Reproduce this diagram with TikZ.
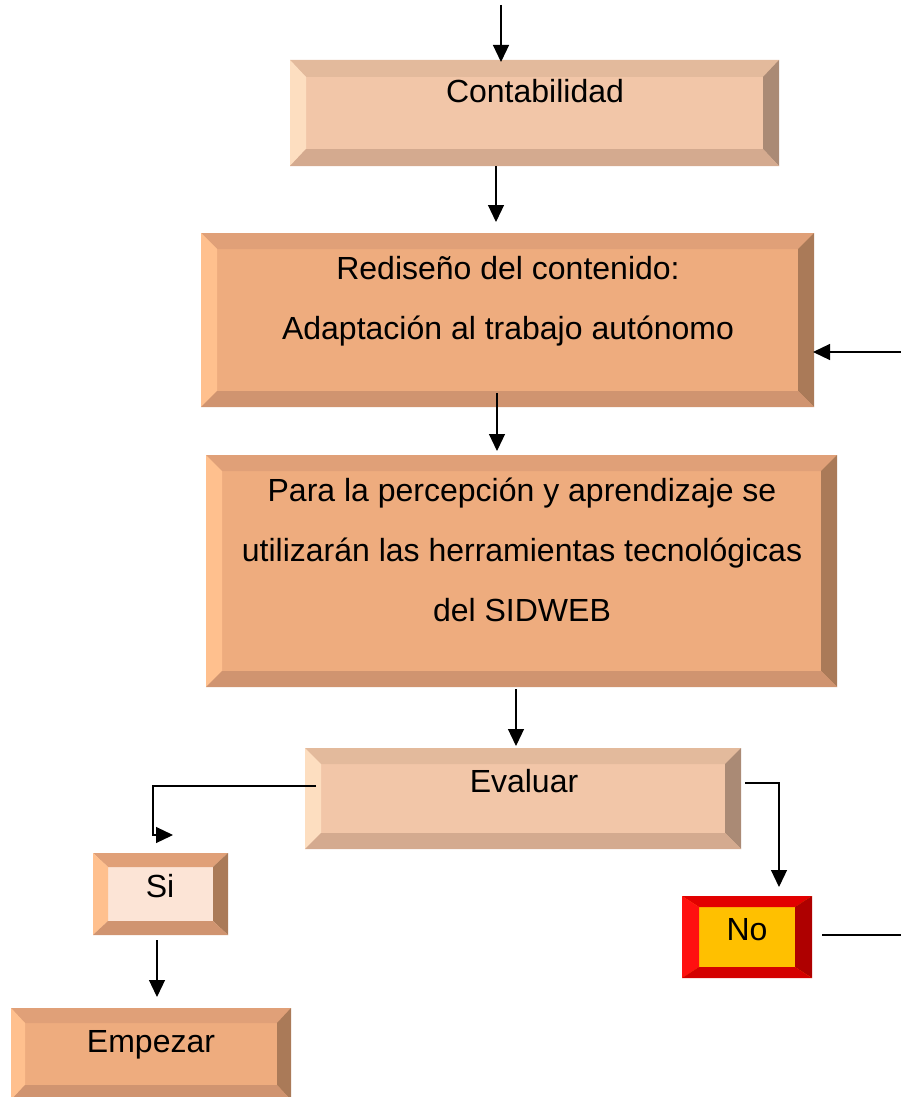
\documentclass[tikz,border=0pt]{standalone}
\usepackage{fontspec}
\setmainfont{Liberation Sans}
\usetikzlibrary{arrows.meta}

\definecolor{lightface}{HTML}{F2C6A8}
\definecolor{lighttop}{HTML}{E3BA9C}
\definecolor{lightleft}{HTML}{FDDEC0}
\definecolor{lightright}{HTML}{AA8A75}
\definecolor{lightbottom}{HTML}{D4AA8F}
\definecolor{darkface}{HTML}{EEAC7E}
\definecolor{darktop}{HTML}{E0A078}
\definecolor{darkleft}{HTML}{FFC08E}
\definecolor{darkright}{HTML}{AA7A58}
\definecolor{darkbottom}{HTML}{D09470}
\definecolor{siface}{HTML}{FCE4D6}
\definecolor{noface}{HTML}{FFC000}
\definecolor{notop}{HTML}{E20000}
\definecolor{noleft}{HTML}{FF1010}
\definecolor{noright}{HTML}{AE0000}
\definecolor{nobottom}{HTML}{D40000}

% bevel frame round a box node: name, bevel x, bevel y, top, left, right, bottom
\newcommand{\bevelframe}[7]{%
  \fill[#4] (#1.north west) -- (#1.north east) -- ([xshift=-#2pt,yshift=-#3pt]#1.north east) -- ([xshift=#2pt,yshift=-#3pt]#1.north west) -- cycle;
  \fill[#5] (#1.north west) -- ([xshift=#2pt,yshift=-#3pt]#1.north west) -- ([xshift=#2pt,yshift=#3pt]#1.south west) -- (#1.south west) -- cycle;
  \fill[#6] (#1.north east) -- ([xshift=-#2pt,yshift=-#3pt]#1.north east) -- ([xshift=-#2pt,yshift=#3pt]#1.south east) -- (#1.south east) -- cycle;
  \fill[#7] (#1.south west) -- ([xshift=#2pt,yshift=#3pt]#1.south west) -- ([xshift=-#2pt,yshift=#3pt]#1.south east) -- (#1.south east) -- cycle;
}

\begin{document}
\begin{tikzpicture}[x=1pt, y=-1pt,
    box/.style={rectangle, inner sep=0pt, outer sep=0pt},
    txt/.style={font=\fontsize{32}{38}\selectfont, anchor=base, inner sep=0pt},
    arr/.style={-{Triangle[length=17pt,width=16pt]}, line width=1.2pt},
    line/.style={line width=1.2pt}]
    \useasboundingbox (0,0) rectangle (901,1097);

    % boxes
    \node[box, fill=lightface, minimum width=489pt, minimum height=106pt] (conta) at (534.5,113) {};
    \node[box, fill=darkface, minimum width=613pt, minimum height=174pt] (redis) at (507.5,320) {};
    \node[box, fill=darkface, minimum width=631pt, minimum height=232pt] (para) at (521.5,571) {};
    \node[box, fill=lightface, minimum width=436pt, minimum height=101pt] (eval) at (523,798.5) {};
    \node[box, fill=siface, minimum width=135pt, minimum height=82pt] (si) at (160.5,894) {};
    \node[box, fill=noface, minimum width=130pt, minimum height=82pt] (no) at (747,937) {};
    \node[box, fill=darkface, minimum width=280pt, minimum height=92pt] (emp) at (151,1054) {};

    \bevelframe{conta}{16}{17}{lighttop}{lightleft}{lightright}{lightbottom}
    \bevelframe{redis}{16}{16}{darktop}{darkleft}{darkright}{darkbottom}
    \bevelframe{para}{16}{16}{darktop}{darkleft}{darkright}{darkbottom}
    \bevelframe{eval}{16}{16}{lighttop}{lightleft}{lightright}{lightbottom}
    \bevelframe{si}{15}{14}{darktop}{darkleft}{darkright}{darkbottom}
    \bevelframe{no}{17}{11}{notop}{noleft}{noright}{nobottom}
    \bevelframe{emp}{14}{15}{darktop}{darkleft}{darkright}{darkbottom}

    % texts
    \node[txt] (contaT) at (535,103) {Contabilidad};
    \node[txt] (redisA) at (508,279) {Rediseño del contenido:};
    \node[txt] (redisB) at (508,339) {Adaptación al trabajo autónomo};
    \node[txt] (paraA) at (522,501) {Para la percepción y aprendizaje se};
    \node[txt] (paraB) at (522,561) {utilizarán las herramientas tecnológicas};
    \node[txt] (paraC) at (522,621) {del SIDWEB};
    \node[txt] (evalT) at (524,792) {Evaluar};
    \node[txt] (siT) at (160,897) {Si};
    \node[txt] (noT) at (747,940) {No};
    \node[txt] (empT) at (151,1052) {Empezar};

    % connectors
    \coordinate (inflow) at (501,5);
    \coordinate (loop) at (901,352);
    \coordinate (outflow) at (901,935);

    \draw[arr] (inflow) -- ([xshift=-33.5pt,yshift=-2pt]conta.north);
    \draw[arr] ([xshift=-38.5pt]conta.south) -- ([xshift=-11.5pt,yshift=11pt]redis.north);
    \draw[arr] (loop) -- ([yshift=-32pt,xshift=-1pt]redis.east);
    \draw[arr] ([xshift=-10.5pt,yshift=14pt]redis.south) -- ([xshift=-24.5pt,yshift=4pt]para.north);
    \draw[arr] ([xshift=-5.5pt,yshift=-2pt]para.south) -- ([xshift=-7pt,yshift=2pt]eval.north);
    \draw[arr] ([xshift=11pt,yshift=12.5pt]eval.west) -| ([xshift=60pt,yshift=18pt]si.north west) -- ([xshift=80pt,yshift=18pt]si.north west);
    \draw[arr] ([xshift=4pt,yshift=15.5pt]eval.east) -| ([xshift=32pt,yshift=9pt]no.north);
    \draw[arr] ([xshift=-3.5pt,yshift=-5pt]si.south) -- ([xshift=6pt,yshift=11pt]emp.north);
    \draw[line] ([xshift=10pt,yshift=2pt]no.east) -- (outflow);

\end{tikzpicture}
\end{document}
